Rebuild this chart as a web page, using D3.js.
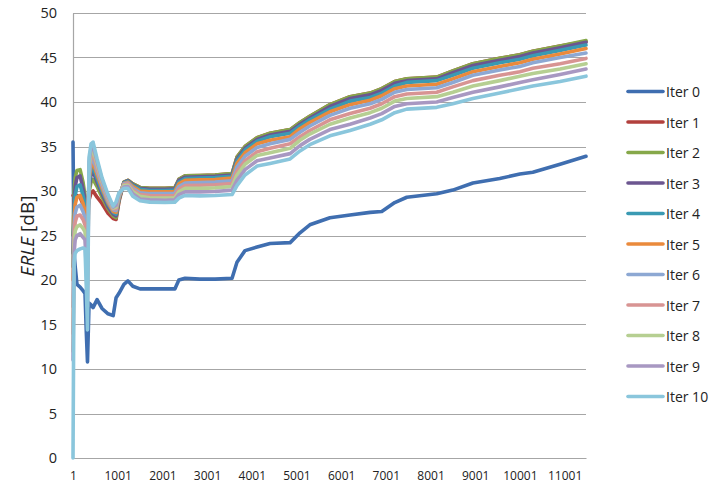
<!DOCTYPE html>
<html>
<head>
<meta charset="utf-8">
<script src="https://cdn.jsdelivr.net/npm/d3@7"></script>
<style>
  body { margin: 0; background: #fff; }
  text { font-family: "Open Sans", "Noto Sans", sans-serif; fill: #222; }
</style>
</head>
<body>
<div id="chart"></div>
<script>
// sample index (x categories)
var samples = [1, 25, 50, 90, 160, 225, 270, 300, 325, 360, 405, 450, 540, 650, 785, 900, 965, 1030, 1140, 1230,
    1340, 1500, 1720, 2060, 2280, 2370, 2510, 2840, 3180, 3560, 3670, 3850, 4120, 4410, 4860, 5080, 5300, 5750, 6200, 6650,
    6910, 7200, 7470, 8140, 8500, 8950, 9550, 10000, 10290, 10900, 11480];

var iter0 = [35.5, 23.0, 21.5, 19.5, 19.2, 18.8, 18.5, 14.0, 10.8, 17.4, 17.2, 16.9, 17.8, 16.8, 16.2, 16.0, 18.0, 18.5, 19.5, 19.9,
    19.3, 19.0, 19.0, 19.0, 19.0, 20.0, 20.2, 20.1, 20.1, 20.2, 22.0, 23.3, 23.7, 24.1, 24.2, 25.3, 26.2, 27.0, 27.3, 27.6,
    27.7, 28.7, 29.3, 29.7, 30.1, 30.9, 31.4, 31.9, 32.1, 33.0, 33.9];
var iter1 = [29.5, 29.5, 29.5, 29.5, 29.3, 28.5, 28, 27.5, 27.8, 29, 29.8, 30, 29.3, 28.6, 27.5, 26.9, 26.8, 28.8, 31, 31.2,
    30.8, 30.4, 30.3, 30.3, 30.35, 31.3, 31.7, 31.75, 31.8, 31.95, 33.8, 35.0, 36.0, 36.5, 36.9, 37.7, 38.4, 39.7, 40.6, 41.0,
    41.5, 42.3, 42.6, 42.8, 43.5, 44.3, 44.9, 45.3, 45.7, 46.3, 46.8];
var iter2 = [25, 30, 31.5, 32.3, 32.4, 31.0, 29.5, 28, 27.5, 29.8, 31, 31.3, 30.5, 29.3, 28, 27.2, 27, 29, 31, 31.2,
    30.8, 30.4, 30.3, 30.3, 30.35, 31.3, 31.7, 31.75, 31.8, 31.95, 33.8, 35.0, 36.0, 36.5, 36.9, 37.7, 38.4, 39.7, 40.6, 41.0,
    41.5, 42.3, 42.6, 42.8, 43.5, 44.3, 44.9, 45.3, 45.7, 46.3, 46.9];
var iter3 = [23, 29, 30.5, 31.5, 31.7, 30.3, 29, 27.5, 26.5, 30.3, 31.8, 32.2, 31, 29.7, 28.2, 27.4, 27.2, 29.1, 30.95, 31.15,
    30.7, 30.3, 30.2, 30.2, 30.25, 31.2, 31.55, 31.6, 31.65, 31.8, 33.6, 34.8, 35.8, 36.3, 36.7, 37.5, 38.2, 39.5, 40.4, 40.8,
    41.3, 42.1, 42.4, 42.6, 43.3, 44.1, 44.7, 45.1, 45.5, 46.1, 46.7];
var iter4 = [21.5, 28, 29.5, 30.5, 30.7, 29.5, 28.5, 27, 25.5, 30.8, 32.3, 32.7, 31.4, 30, 28.5, 27.6, 27.4, 29.2, 30.9, 31.1,
    30.6, 30.2, 30.05, 30.05, 30.1, 31, 31.4, 31.45, 31.5, 31.65, 33.4, 34.6, 35.6, 36.1, 36.5, 37.3, 38.0, 39.2, 40.1, 40.5,
    41.0, 41.8, 42.2, 42.4, 43.0, 43.8, 44.4, 44.8, 45.2, 45.8, 46.4];
var iter5 = [20, 27, 28.5, 29.3, 29.5, 28.6, 27.8, 26.3, 24.5, 31.3, 32.8, 33.2, 31.8, 30.3, 28.7, 27.7, 27.6, 29.3, 30.85, 31,
    30.5, 30, 29.9, 29.9, 29.95, 30.8, 31.2, 31.25, 31.3, 31.45, 33.1, 34.3, 35.3, 35.7, 36.1, 37.0, 37.7, 38.9, 39.7, 40.2,
    40.7, 41.5, 41.8, 42.0, 42.6, 43.4, 44.0, 44.4, 44.8, 45.4, 46.0];
var iter6 = [17, 26, 27.5, 28.2, 28.4, 27.7, 27, 25.5, 23, 31.8, 33.3, 33.7, 32.2, 30.6, 28.9, 27.9, 27.8, 29.4, 30.8, 30.9,
    30.3, 29.8, 29.7, 29.7, 29.75, 30.5, 30.9, 30.95, 31, 31.15, 32.7, 33.9, 34.9, 35.3, 35.8, 36.6, 37.3, 38.5, 39.3, 39.8,
    40.3, 41.1, 41.4, 41.6, 42.2, 43.0, 43.6, 44.0, 44.4, 45.0, 45.5];
var iter7 = [14, 25, 26.5, 27.2, 27.3, 26.8, 26.2, 24.5, 21.5, 32.3, 33.8, 34.2, 32.6, 30.9, 29.1, 28, 28, 29.5, 30.7, 30.8,
    30.1, 29.6, 29.5, 29.45, 29.5, 30.2, 30.6, 30.65, 30.7, 30.85, 32.2, 33.4, 34.4, 34.8, 35.3, 36.1, 36.8, 38.0, 38.7, 39.3,
    39.8, 40.6, 40.9, 41.1, 41.7, 42.4, 43.0, 43.4, 43.8, 44.3, 44.9];
var iter8 = [12, 24, 25.5, 26, 26.2, 25.8, 25.4, 23, 19.5, 32.8, 34.3, 34.7, 33, 31.1, 29.3, 28.1, 28.2, 29.6, 30.6, 30.65,
    29.9, 29.4, 29.25, 29.2, 29.25, 29.9, 30.3, 30.3, 30.35, 30.5, 31.8, 33.0, 34.0, 34.3, 34.8, 35.7, 36.4, 37.5, 38.2, 38.8,
    39.3, 40.1, 40.4, 40.6, 41.1, 41.8, 42.4, 42.9, 43.2, 43.7, 44.3];
var iter9 = [11, 23, 24.5, 25, 25.2, 24.8, 24.5, 21, 17, 33.3, 34.8, 35.1, 33.3, 31.3, 29.4, 28.2, 28.4, 29.7, 30.45, 30.5,
    29.7, 29.1, 29, 28.95, 29, 29.6, 29.9, 29.9, 29.95, 30.1, 31.2, 32.4, 33.4, 33.7, 34.2, 35.1, 35.8, 36.9, 37.5, 38.2,
    38.7, 39.5, 39.8, 40.0, 40.5, 41.1, 41.7, 42.2, 42.5, 43.1, 43.7];
var iter10 = [0, 22, 23, 23.3, 23.5, 23.6, 23.5, 19, 14.4, 33.8, 35.3, 35.5, 33.6, 31.5, 29.6, 28.3, 28.8, 29.8, 30.3, 30.3,
    29.4, 28.9, 28.75, 28.7, 28.75, 29.2, 29.5, 29.45, 29.5, 29.6, 30.6, 31.8, 32.8, 33.1, 33.6, 34.5, 35.2, 36.2, 36.8, 37.5,
    38.0, 38.8, 39.2, 39.4, 39.8, 40.4, 41.0, 41.5, 41.8, 42.3, 42.9];

var seriesNames = ["Iter 0", "Iter 1", "Iter 2", "Iter 3", "Iter 4", "Iter 5", "Iter 6", "Iter 7", "Iter 8", "Iter 9", "Iter 10"];
var seriesValues = [iter0, iter1, iter2, iter3, iter4, iter5, iter6, iter7, iter8, iter9, iter10];
var seriesColors = ["#3f6eb0", "#b2403d", "#86a84a", "#6c5690", "#3a9ab3", "#ea8a3c",
                    "#8da8d3", "#d89493", "#b6cf92", "#a898c2", "#8ac6dc"];

var yTicks = [0, 5, 10, 15, 20, 25, 30, 35, 40, 45, 50];
var xTickLabels = [1, 1001, 2001, 3001, 4001, 5001, 6001, 7001, 8001, 9001, 10001, 11001];

var width = 712, height = 483;
var margin = {top: 13, bottom: 25, left: 73, right: 126};

var svg = d3.select("#chart")
    .append("svg")
    .attr("width", width)
    .attr("height", height);

var xScale = d3.scaleLinear()
    .domain([1, 11480])
    .range([margin.left, width - margin.right]);

var yScale = d3.scaleLinear()
    .domain([0, 50])
    .range([height - margin.bottom, margin.top]);

// gridlines
svg.append("g")
    .selectAll("line")
    .data(yTicks)
    .enter()
    .append("line")
    .attr("x1", margin.left)
    .attr("x2", width - margin.right)
    .attr("y1", function(d){ return Math.round(yScale(d)) + 0.5; })
    .attr("y2", function(d){ return Math.round(yScale(d)) + 0.5; })
    .attr("stroke", "#a6a6a6")
    .attr("stroke-width", 1.2);

// y axis
var yAxis = svg.append("g")
    .attr("transform", `translate(${margin.left}, 0)`)
    .call(d3.axisLeft(yScale).tickValues(yTicks).tickSize(0).tickPadding(16));
yAxis.select(".domain").attr("stroke", "#a6a6a6").attr("stroke-width", 1.2);
yAxis.selectAll("text")
    .style("font-size", "14.5px")
    .style("font-family", "'Open Sans', sans-serif")
    .attr("fill", "#222");

// x axis
var xAxis = svg.append("g")
    .attr("transform", `translate(0, ${yScale(0)})`)
    .call(d3.axisBottom(xScale).tickValues(xTickLabels).tickSize(0).tickPadding(13)
        .tickFormat(function(d){ return d; }));
xAxis.select(".domain").attr("stroke", "#a6a6a6").attr("stroke-width", 1.2);
xAxis.selectAll("text")
    .style("font-size", "12px")
    .style("font-family", "'Open Sans', sans-serif")
    .attr("fill", "#222");

// axis title
svg.append("text")
    .attr("transform", "translate(27, 236) rotate(-90)")
    .attr("text-anchor", "middle")
    .attr("dominant-baseline", "central")
    .style("font-size", "19px")
    .html('<tspan font-style="italic">ERLE</tspan> [dB]');

var line = d3.line()
    .x(function(d, i){ return xScale(samples[i]); })
    .y(function(d){ return yScale(d); });

svg.append("g")
    .selectAll("path")
    .data(seriesValues)
    .enter()
    .append("path")
    .attr("d", line)
    .attr("fill", "none")
    .attr("stroke", function(d, i){ return seriesColors[i]; })
    .attr("stroke-width", 3.6)
    .attr("stroke-linejoin", "round")
    .attr("stroke-linecap", "round");

// legend
var legend = svg.append("g")
    .selectAll("g")
    .data(seriesNames)
    .enter()
    .append("g")
    .attr("transform", function(d, i){ return `translate(628, ${91.5 + i * 30.5})`; });

legend.append("line")
    .attr("x1", 0)
    .attr("x2", 35)
    .attr("stroke", function(d, i){ return seriesColors[i]; })
    .attr("stroke-width", 3.6)
    .attr("stroke-linecap", "round");

legend.append("text")
    .attr("x", 38)
    .attr("dominant-baseline", "central")
    .style("font-size", "14px")
    .text(function(d){ return d; });
</script>
</body>
</html>
